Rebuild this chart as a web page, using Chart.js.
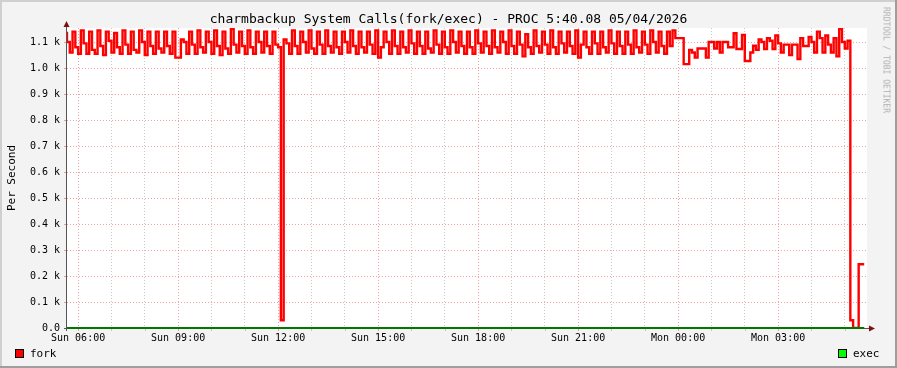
<!DOCTYPE html>
<html>
<head>
<meta charset="utf-8">
<script src="https://cdn.jsdelivr.net/npm/chart.js@4.4.1/dist/chart.umd.min.js"></script>
<style>
  html, body { margin: 0; padding: 0; background: #fff; }
  #wrap { position: relative; width: 897px; height: 368px; background: #f3f3f3; overflow: hidden;
          font-family: 'DejaVu Sans Mono', monospace; color: #000; }
  #chart { position: absolute; left: 0; top: 0; }
  .edge { position: absolute; }
  #title { position: absolute; left: 0; top: 11px; width: 897px; text-align: center; font-size: 13px; line-height: 16px; white-space: nowrap; }
  #ylab { position: absolute; left: 11px; top: 178px; transform: translate(-50%, -50%) rotate(-90deg); font-size: 11px; white-space: nowrap; }
  #credit { position: absolute; left: 886px; top: 60px; transform: translate(-50%, -50%) rotate(90deg); font-size: 8px; color: #b0b0b0; white-space: nowrap; }
  .lg { position: absolute; top: 346px; font-size: 11px; line-height: 16px; }
  .box { position: absolute; top: 349px; width: 9px; height: 9px; box-sizing: border-box; border: 1px solid #000; }
</style>
</head>
<body>
<div id="wrap">
  <canvas id="chart" width="897" height="368"></canvas>
  <div class="edge" style="left:0;top:0;width:897px;height:2px;background:#cfcfcf"></div>
  <div class="edge" style="left:0;top:0;width:2px;height:368px;background:#cfcfcf"></div>
  <div class="edge" style="left:0;top:366px;width:897px;height:2px;background:#9e9e9e"></div>
  <div class="edge" style="left:895px;top:0;width:2px;height:368px;background:#9e9e9e"></div>
  <div id="title">charmbackup System Calls(fork/exec) - PROC 5:40.08 05/04/2026</div>
  <div id="ylab">Per Second</div>
  <div id="credit">RRDTOOL / TOBI OETIKER</div>
  <div class="box" style="left:15px;background:#ff0000"></div>
  <div class="lg" style="left:30px">fork</div>
  <div class="box" style="left:838px;background:#00ff00"></div>
  <div class="lg" style="left:853px">exec</div>
</div>
<script>
// 5 minute samples starting 05:40, one row per hour
const stepMinutes = 5;
const forkValues = [
  1140,1100,1060,1140,1080,1055,1145,1095,1055,1140,1070,1055,
  1145,1085,1050,1140,1105,1060,1135,1080,1055,1145,1090,1055,
  1140,1070,1060,1145,1100,1050,1140,1085,1055,1140,1075,1060,
  1140,1085,1055,1140,1040,1040,1110,1100,1055,1140,1090,1055,
  1145,1080,1060,1140,1100,1055,1145,1085,1050,1140,1075,1055,
  1150,1090,1060,1140,1085,1055,1145,1080,1055,1140,1100,1060,
  1140,1085,1055,1140,1090,1080,30,1110,1095,1055,1145,1085,
  1055,1140,1100,1060,1145,1075,1055,1140,1090,1055,1145,1085,
  1060,1140,1080,1055,1140,1100,1060,1145,1085,1055,1140,1080,
  1060,1140,1090,1055,1145,1040,1080,1140,1100,1055,1145,1085,
  1055,1140,1080,1060,1145,1095,1055,1140,1085,1055,1140,1075,
  1060,1145,1090,1055,1140,1080,1055,1145,1100,1060,1140,1085,
  1055,1140,1080,1055,1145,1095,1060,1140,1085,1055,1145,1080,
  1060,1140,1100,1055,1145,1085,1055,1140,1090,1045,1130,1080,
  1055,1145,1085,1060,1140,1090,1055,1145,1080,1055,1140,1095,
  1060,1140,1085,1055,1145,1040,1090,1140,1080,1055,1140,1095,
  1055,1140,1080,1060,1145,1095,1055,1140,1085,1055,1140,1090,
  1055,1145,1080,1060,1140,1090,1055,1145,1100,1060,1140,1085,
  1055,1140,1085,1145,1115,1115,1115,1015,1015,1070,1060,1040,
  1075,1075,1075,1040,1100,1100,1075,1100,1060,1100,1100,1080,
  1080,1134,1073,1073,1127,1027,1027,1060,1086,1070,1110,1100,
  1073,1115,1105,1073,1125,1095,1060,1090,1090,1050,1090,1090,
  1035,1115,1085,1085,1120,1100,1060,1140,1115,1060,1125,1090,
  1060,1115,1045,1150,1100,1075,1105,30,0,0,245,245
];
const execValues = [
  0,0,0,0,0,0,0,0,0,0,0,0, 0,0,0,0,0,0,0,0,0,0,0,0,
  0,0,0,0,0,0,0,0,0,0,0,0, 0,0,0,0,0,0,0,0,0,0,0,0,
  0,0,0,0,0,0,0,0,0,0,0,0, 0,0,0,0,0,0,0,0,0,0,0,0,
  0,0,0,0,0,0,0,0,0,0,0,0, 0,0,0,0,0,0,0,0,0,0,0,0,
  0,0,0,0,0,0,0,0,0,0,0,0, 0,0,0,0,0,0,0,0,0,0,0,0,
  0,0,0,0,0,0,0,0,0,0,0,0, 0,0,0,0,0,0,0,0,0,0,0,0,
  0,0,0,0,0,0,0,0,0,0,0,0, 0,0,0,0,0,0,0,0,0,0,0,0,
  0,0,0,0,0,0,0,0,0,0,0,0, 0,0,0,0,0,0,0,0,0,0,0,0,
  0,0,0,0,0,0,0,0,0,0,0,0, 0,0,0,0,0,0,0,0,0,0,0,0,
  0,0,0,0,0,0,0,0,0,0,0,0, 0,0,0,0,0,0,0,0,0,0,0,0,
  0,0,0,0,0,0,0,0,0,0,0,0, 0,0,0,0,0,0,0,0,0,0,0,0,
  0,0,0,0,0,0,0,0,0,0,0,0, 0,0,0,0,0,0,0,0,0,0,0,0
];
// x axis: minutes after 05:40, one tick per hour (first at 06:00)
const hourTicks = [20,80,140,200,260,320,380,440,500,560,620,680,740,800,860,920,980,1040,1100,1160,1220,1280,1340,1400];
const xTickLabels = ['Sun 06:00','Sun 09:00','Sun 12:00','Sun 15:00','Sun 18:00','Sun 21:00','Mon 00:00','Mon 03:00'];
const yTicks = [0,100,200,300,400,500,600,700,800,900,1000,1100];
const yMax = 1154;

const majorRed = 'rgba(230,80,80,0.55)';
const minorGrey = 'rgba(150,150,150,0.5)';
const isMajor = v => (v - 20) % 180 === 0;

const toPoints = vals => vals.map((v, i) => ({ x: i * stepMinutes, y: v }));

// rrdtool look: white canvas, axes with arrows, little tick marks
const rrdDecor = {
  id: 'rrdDecor',
  beforeDraw(chart) {
    const { ctx, chartArea: a } = chart;
    ctx.save();
    ctx.fillStyle = '#fff';
    ctx.fillRect(a.left, a.top, a.right - a.left, a.bottom - a.top);
    ctx.restore();
  },
  beforeDatasetsDraw(chart) {
    const { ctx, chartArea: a, scales } = chart;
    ctx.save();
    ctx.lineWidth = 1;
    // tick marks outside the axes
    yTicks.forEach(v => {
      const y = Math.round(scales.y.getPixelForValue(v)) + 0.5;
      ctx.strokeStyle = majorRed;
      ctx.beginPath(); ctx.moveTo(a.left - 3, y); ctx.lineTo(a.left, y); ctx.stroke();
    });
    hourTicks.forEach(v => {
      const x = Math.round(scales.x.getPixelForValue(v)) + 0.5;
      ctx.strokeStyle = isMajor(v) ? majorRed : minorGrey;
      ctx.beginPath(); ctx.moveTo(x, a.bottom); ctx.lineTo(x, a.bottom + 3); ctx.stroke();
    });
    // axes
    ctx.strokeStyle = '#555';
    ctx.beginPath();
    ctx.moveTo(a.left - 0.5, a.bottom + 3); ctx.lineTo(a.left - 0.5, a.top - 2);
    ctx.moveTo(a.left - 3, a.bottom + 0.5); ctx.lineTo(a.right + 2, a.bottom + 0.5);
    ctx.stroke();
    ctx.restore();
  },
  afterDraw(chart) {
    const { ctx, chartArea: a } = chart;
    ctx.save();
    // arrows
    ctx.fillStyle = '#7f1010';
    ctx.beginPath();
    ctx.moveTo(a.left - 0.5, a.top - 7); ctx.lineTo(a.left - 3.5, a.top - 1); ctx.lineTo(a.left + 2.5, a.top - 1);
    ctx.closePath(); ctx.fill();
    ctx.beginPath();
    ctx.moveTo(a.right + 8, a.bottom + 0.5); ctx.lineTo(a.right + 2, a.bottom - 2.5); ctx.lineTo(a.right + 2, a.bottom + 3.5);
    ctx.closePath(); ctx.fill();
    ctx.restore();
  }
};

new Chart(document.getElementById('chart'), {
  type: 'line',
  data: {
    datasets: [
      {
        label: 'exec',
        data: toPoints(execValues),
        borderColor: '#007800',
        borderWidth: 2,
        stepped: 'after',
        pointRadius: 0,
        fill: false,
        clip: 4,
      },
      {
        label: 'fork',
        data: toPoints(forkValues),
        borderColor: '#ff0000',
        borderWidth: 2.4,
        stepped: 'after',
        pointRadius: 0,
        fill: false,
      }
    ]
  },
  options: {
    responsive: false,
    animation: false,
    layout: { padding: { left: 0, right: 30, top: 28, bottom: 0 } },
    plugins: {
      legend: { display: false },
      title: { display: false },
      tooltip: { enabled: false },
    },
    scales: {
      x: {
        type: 'linear',
        min: 0,
        max: 1440,
        afterFit: s => { s.height = 40; },
        afterBuildTicks: s => { s.ticks = hourTicks.map(v => ({ value: v })); },
        grid: {
          drawTicks: false,
          color: c => (c.tick && isMajor(c.tick.value)) ? majorRed : minorGrey,
        },
        border: { display: false, dash: [1, 2] },
        ticks: {
          autoSkip: false,
          maxRotation: 0,
          padding: 4,
          color: '#000',
          font: { family: 'DejaVu Sans Mono', size: 10 },
          callback: v => isMajor(v) ? xTickLabels[(v - 20) / 180] : '',
        },
      },
      y: {
        min: 0,
        max: yMax,
        afterFit: s => { s.width = 67; },
        afterBuildTicks: s => { s.ticks = yTicks.map(v => ({ value: v })); },
        grid: {
          drawTicks: false,
          color: c => (c.tick && c.tick.value === 0) ? 'rgba(0,0,0,0)' : majorRed,
        },
        border: { display: false, dash: [1, 2] },
        ticks: {
          padding: 7,
          color: '#000',
          font: { family: 'DejaVu Sans Mono', size: 10 },
          callback: v => v === 0 ? '0.0' : (v / 1000).toFixed(1) + ' k',
        },
      }
    }
  },
  plugins: [rrdDecor]
});
</script>
</body>
</html>
